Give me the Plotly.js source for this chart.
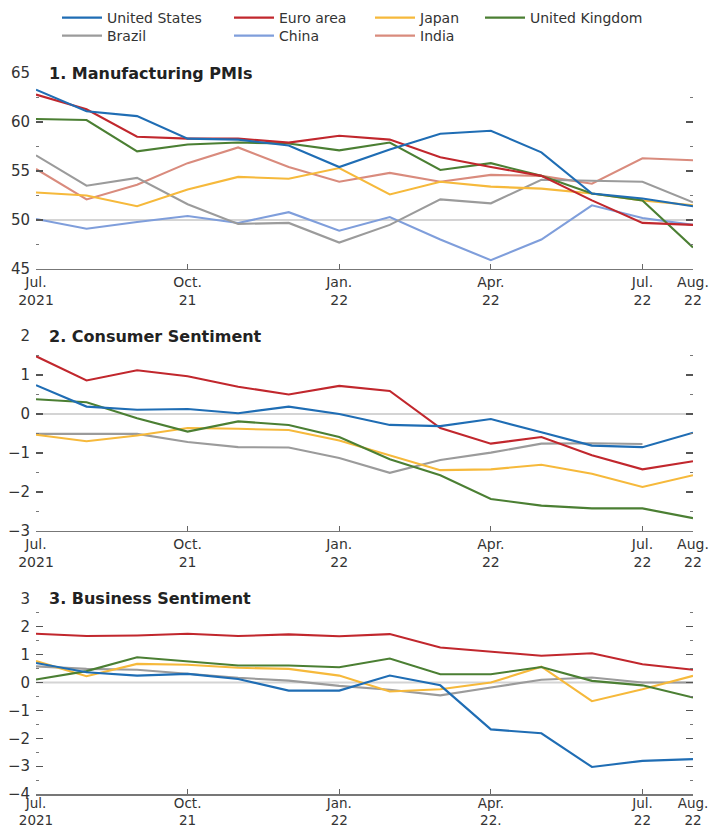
<!DOCTYPE html>
<html>
<head>
<meta charset="utf-8">
<script src="https://cdn.plot.ly/plotly-3.0.1.min.js"></script>
<style>
html,body{margin:0;padding:0;background:#fff;}
#chart{width:714px;height:829px;}
</style>
</head>
<body>
<div id="chart"></div>
<script>
// ---- DATA ----
const months = ['Jul 2021','Aug 2021','Sep 2021','Oct 2021','Nov 2021','Dec 2021','Jan 2022','Feb 2022','Mar 2022','Apr 2022','May 2022','Jun 2022','Jul 2022','Aug 2022'];
const seriesNames = ['United States','Euro area','Japan','United Kingdom','Brazil','China','India'];
const tickIdx = [0,3,6,9,12,13];
const tickTextA = ['Jul.<br>2021','Oct.<br>21','Jan.<br>22','Apr.<br>22','Jul.<br>22','Aug.<br>22'];
const tickTextB = ['Jul.<br>2021','Oct.<br>21','Jan.<br>22','Apr.<br>22.','Jul.<br>22','Aug.<br>22'];
const panelTitles = ['1. Manufacturing PMIs','2. Consumer Sentiment','3. Business Sentiment'];
const refLevels = [50, 0, 0];

// Panel 1: Manufacturing PMIs
const pmiUS     = [63.3,61.1,60.6,58.3,58.2,57.6,55.4,57.2,58.8,59.1,56.9,52.7,52.2,51.4];
const pmiEuro   = [62.8,61.3,58.5,58.3,58.3,57.9,58.6,58.2,56.4,55.4,54.5,52.0,49.7,49.5];
const pmiJapan  = [52.8,52.5,51.4,53.1,54.4,54.2,55.3,52.6,53.9,53.4,53.2,52.7,52.0,51.5];
const pmiUK     = [60.3,60.2,57.0,57.7,57.9,57.8,57.1,57.9,55.1,55.8,54.5,52.7,52.0,47.2];
const pmiBrazil = [56.6,53.5,54.3,51.6,49.6,49.7,47.7,49.5,52.1,51.7,54.1,54.0,53.9,51.8];
const pmiChina  = [50.1,49.1,49.8,50.4,49.7,50.8,48.9,50.3,48.0,45.9,48.0,51.5,50.2,49.5];
const pmiIndia  = [55.2,52.1,53.6,55.8,57.4,55.4,53.9,54.8,53.9,54.6,54.5,53.7,56.3,56.1];

// Panel 2: Consumer Sentiment
const conUS     = [0.74,0.19,0.11,0.13,0.02,0.19,0.00,-0.28,-0.31,-0.13,-0.47,-0.81,-0.85,-0.48];
const conEuro   = [1.48,0.86,1.12,0.97,0.70,0.50,0.72,0.59,-0.36,-0.76,-0.59,-1.06,-1.42,-1.21];
const conJapan  = [-0.53,-0.70,-0.55,-0.36,-0.38,-0.41,-0.68,-1.06,-1.44,-1.42,-1.30,-1.53,-1.87,-1.57];
const conUK     = [0.38,0.30,-0.11,-0.45,-0.19,-0.28,-0.59,-1.16,-1.57,-2.18,-2.35,-2.42,-2.42,-2.67];
const conBrazil = [-0.51,-0.51,-0.51,-0.72,-0.85,-0.86,-1.13,-1.51,-1.18,-0.99,-0.76,-0.75,-0.77,null];

// Panel 3: Business Sentiment
const busUS     = [0.70,0.37,0.25,0.31,0.13,-0.29,-0.29,0.25,-0.10,-1.68,-1.82,-3.03,-2.81,-2.75];
const busEuro   = [1.75,1.67,1.69,1.75,1.67,1.73,1.66,1.74,1.26,1.11,0.96,1.05,0.66,0.46];
const busJapan  = [0.77,0.23,0.67,0.64,0.53,0.49,0.25,-0.32,-0.24,0.00,0.57,-0.67,-0.24,0.24];
const busUK     = [0.11,0.41,0.91,0.76,0.61,0.61,0.55,0.86,0.30,0.30,0.56,0.06,-0.10,-0.54];
const busBrazil = [0.58,0.49,0.46,0.31,0.17,0.07,-0.12,-0.26,-0.46,-0.18,0.10,0.18,0.00,0.00];

// ---- STYLE ----
const colors = {
  'United States':'#1f6db4',
  'Euro area':'#c1272d',
  'Japan':'#f6b93b',
  'United Kingdom':'#4b7f33',
  'Brazil':'#9b9b9b',
  'China':'#7f9edb',
  'India':'#d98b7d'
};
const FONT = 'DejaVu Sans, Arial, sans-serif';
const xIdx = months.map((m, i) => i);

const panels = [
  {x:'x',  y:'y',  data:{'United States':pmiUS,'Euro area':pmiEuro,'Japan':pmiJapan,'United Kingdom':pmiUK,'Brazil':pmiBrazil,'China':pmiChina,'India':pmiIndia}},
  {x:'x2', y:'y2', data:{'United States':conUS,'Euro area':conEuro,'Japan':conJapan,'United Kingdom':conUK,'Brazil':conBrazil}},
  {x:'x3', y:'y3', data:{'United States':busUS,'Euro area':busEuro,'Japan':busJapan,'United Kingdom':busUK,'Brazil':busBrazil}}
];

const legendIds = ['legend','legend2','legend3','legend4','legend5','legend6','legend7'];
const traces = [];
panels.forEach((p, pi) => {
  const order = ['India','China','Brazil','Japan','United Kingdom','Euro area','United States'];
  order.forEach(name => {
    if (!(name in p.data)) return;
    const idx = seriesNames.indexOf(name);
    traces.push({
      type:'scatter', mode:'lines',
      x:xIdx, y:p.data[name],
      xaxis:p.x, yaxis:p.y,
      name:name,
      line:{color:colors[name], width:2.1},
      showlegend: pi === 0,
      legend: legendIds[idx],
      hoverinfo:'skip'
    });
  });
});

function xAxis(anchor, text, standoff, fsize) {
  return {
    anchor:anchor, domain:[0,1], range:[0,13],
    tickmode:'array', tickvals:tickIdx, ticktext:text,
    ticks:'inside', ticklen:5, tickwidth:1.2, tickcolor:'#666',
    showline:true, linecolor:'#777', linewidth:1.5,
    showgrid:false, zeroline:false, automargin:false,
    ticklabelstandoff:standoff,
    tickfont:{family:FONT, size:fsize, color:'#333'}
  };
}
function yAxis(anchor, domain, range, dtick, minorDtick) {
  return {
    anchor:anchor, domain:domain, range:range, dtick:dtick, tick0:0,
    ticks:'inside', ticklen:7, tickwidth:1.2, tickcolor:'#555',
    mirror:'ticks', showline:false, showgrid:false, zeroline:false, automargin:false,
    ticklabelstandoff:5,
    minor:{dtick:minorDtick, tick0:0, ticks:'inside', ticklen:3, tickwidth:1, tickcolor:'#777', showgrid:false},
    tickfont:{family:FONT, size:15, color:'#333'}
  };
}

const W = 714, H = 829;
const legendPos = [[64,18],[236,18],[377,18],[487,18],[64,36],[236,36],[377,36]];

const layout = {
  width:W, height:H,
  margin:{l:36, r:21, t:73, b:35},
  paper_bgcolor:'#fff', plot_bgcolor:'rgba(0,0,0,0)',
  font:{family:FONT, color:'#333'},
  xaxis: xAxis('y', tickTextA, 0, 14),
  xaxis2: xAxis('y2', tickTextA, 0, 14),
  xaxis3: xAxis('y3', tickTextB, -4, 13.5),
  yaxis: yAxis('x', [0.7282,1], [45,65], 5, 2.5),
  yaxis2: yAxis('x2', [0.3648,0.6352], [-3,2], 1, 0.5),
  yaxis3: yAxis('x3', [0,0.2705], [-4,3], 1, 0.5),
  shapes: refLevels.map((lv, i) => ({
    type:'line', layer:'below',
    xref: (i === 0 ? 'x' : 'x' + (i+1)) + ' domain', x0:0, x1:1,
    yref: i === 0 ? 'y' : 'y' + (i+1), y0:lv, y1:lv,
    line:{color:'#d4d4d4', width:2}
  })),
  annotations: panelTitles.map((t, i) => ({
    text:'<b>' + t + '</b>',
    xref:(i === 0 ? 'x' : 'x' + (i+1)) + ' domain', x:0.017, xanchor:'left',
    yref:(i === 0 ? 'y' : 'y' + (i+1)) + ' domain', y:1, yanchor:'middle',
    showarrow:false,
    font:{family:FONT, size:16, color:'#222'}
  })),
  showlegend:true
};
legendIds.forEach((id, i) => {
  layout[id] = {
    xref:'container', yref:'container',
    x:(legendPos[i][0] - 7) / W, xanchor:'left',
    y:1 - legendPos[i][1] / H, yanchor:'middle',
    orientation:'h', bgcolor:'rgba(0,0,0,0)', borderwidth:0,
    itemwidth:40,
    font:{family:FONT, size:14, color:'#333'}
  };
});

Plotly.newPlot('chart', traces, layout, {displayModeBar:false, staticPlot:true});
</script>
</body>
</html>
